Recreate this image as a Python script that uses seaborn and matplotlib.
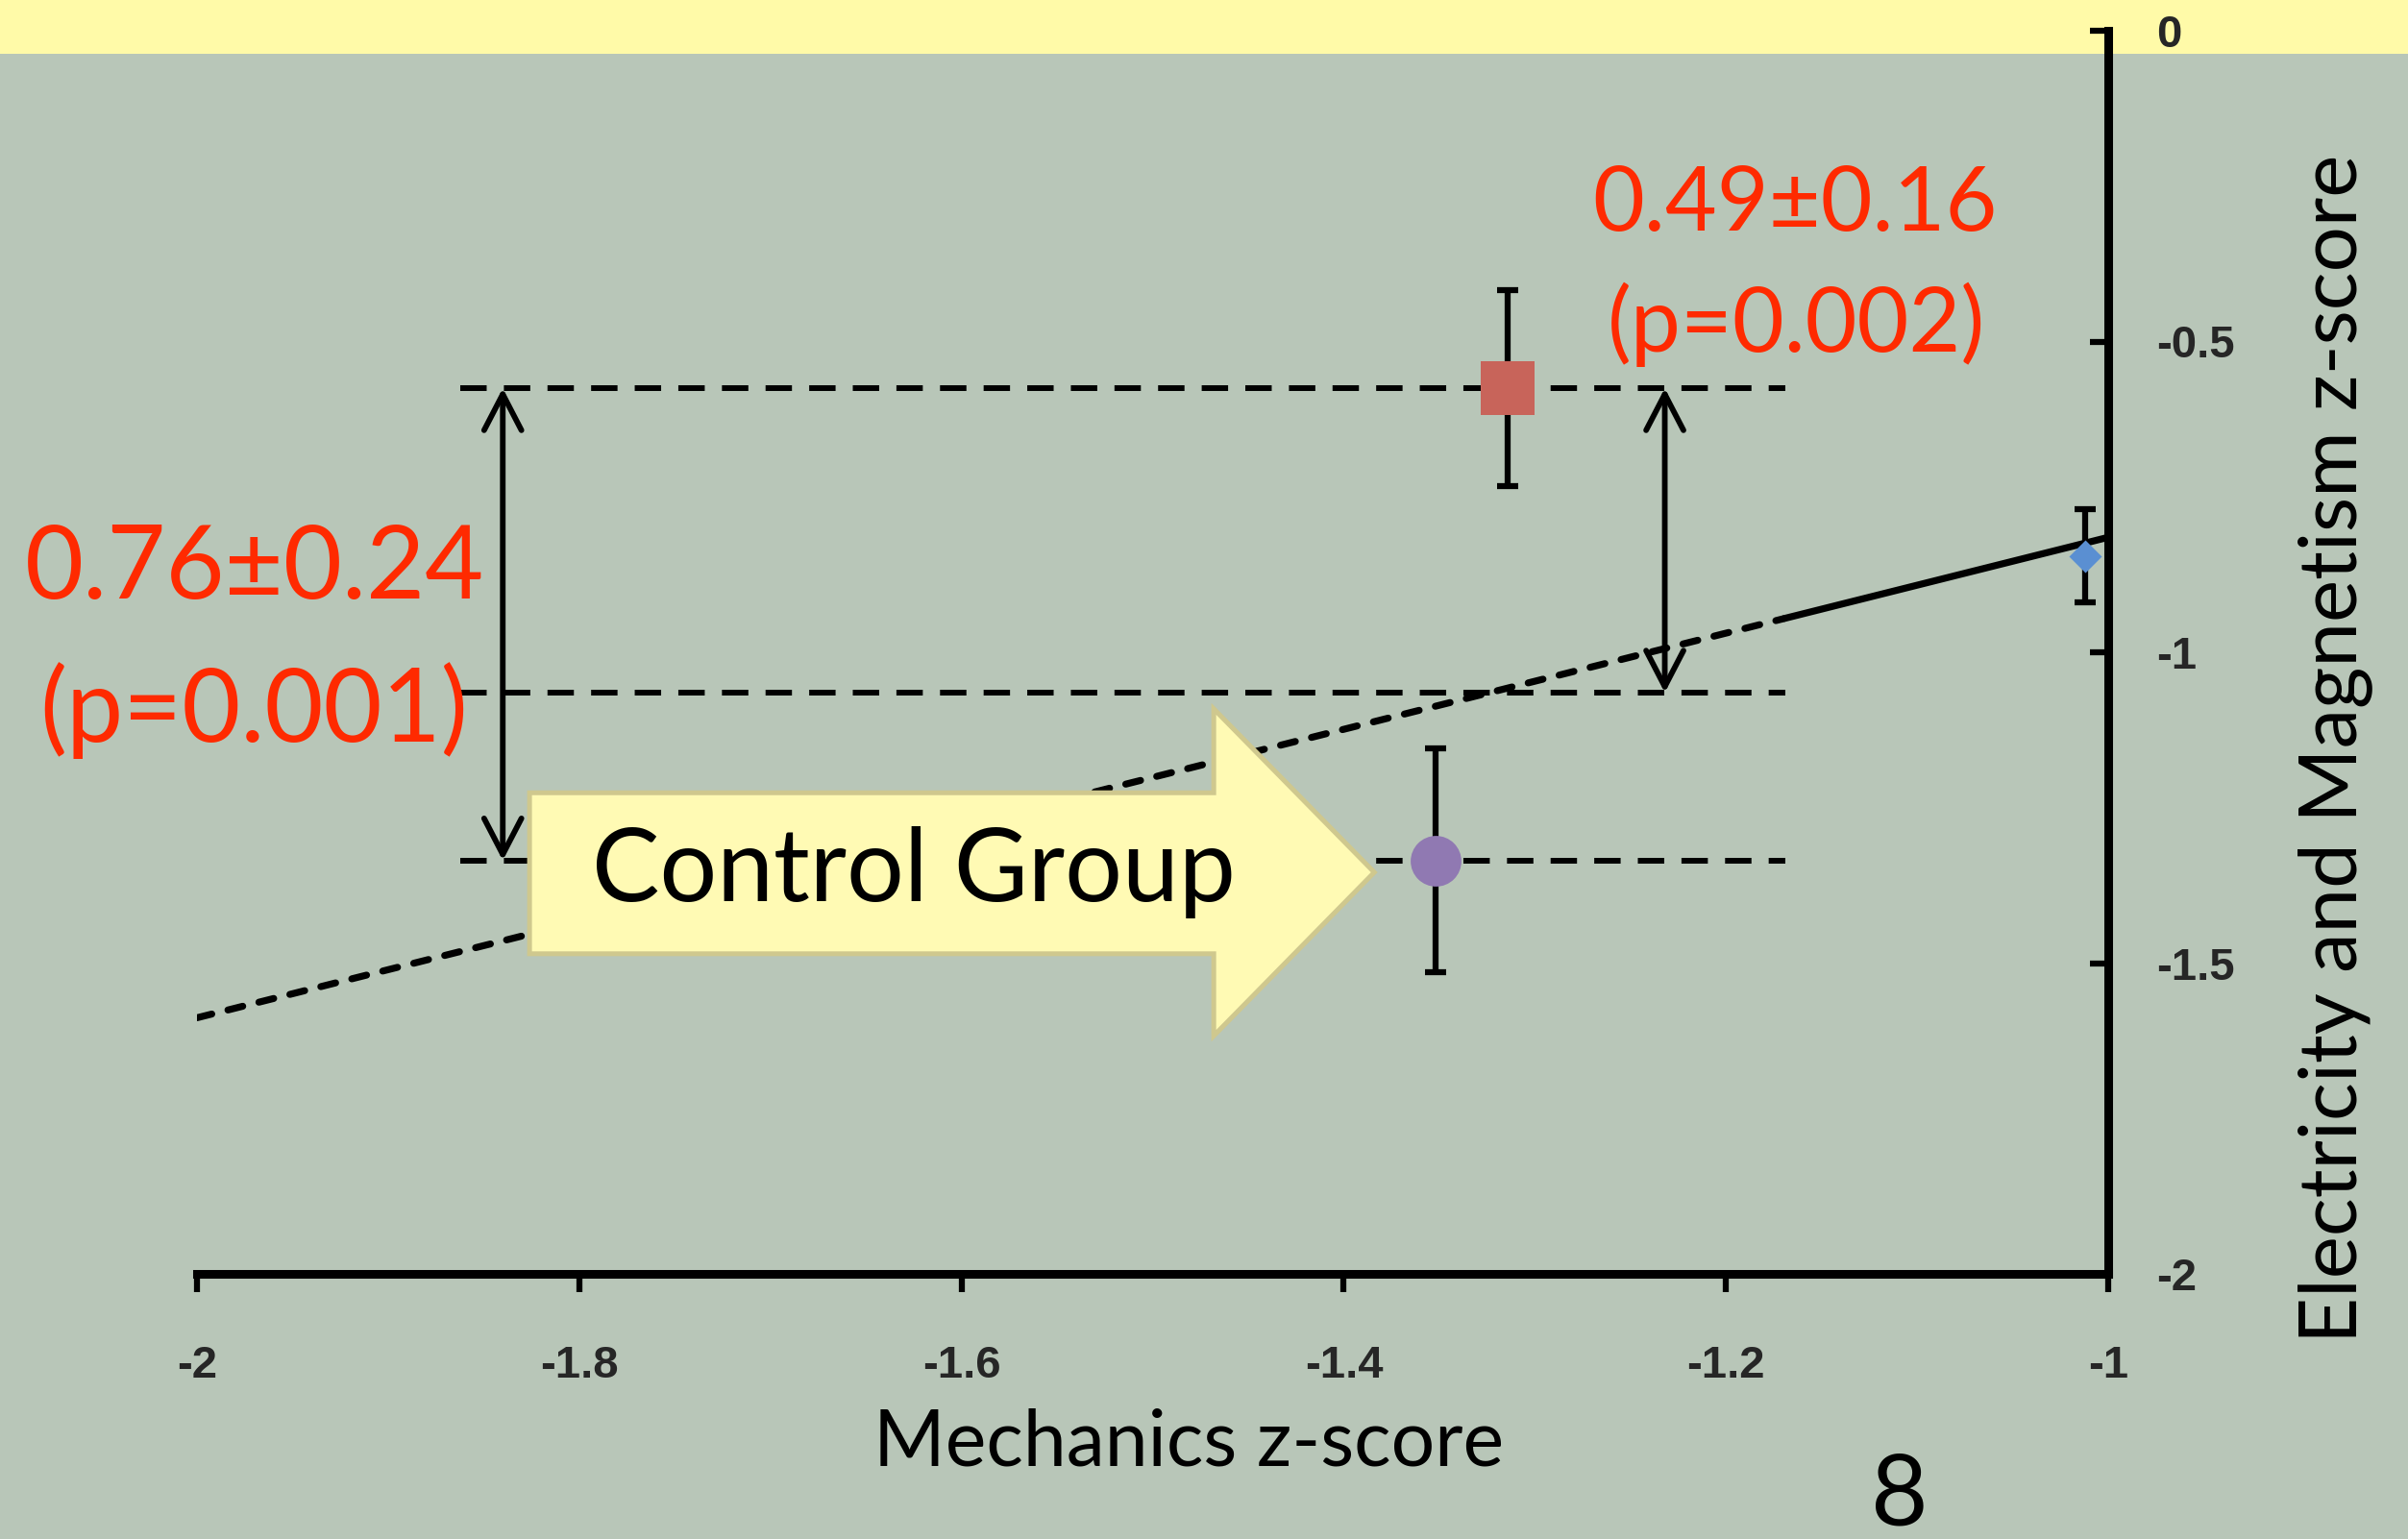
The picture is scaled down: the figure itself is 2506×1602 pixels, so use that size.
import matplotlib
matplotlib.use("Agg")
import matplotlib.pyplot as plt
import seaborn as sns
import pandas as pd
from matplotlib.patches import Polygon, Rectangle, FancyArrowPatch

# ---- data -------------------------------------------------------------
group_names = ["Tutored", "Control", "Cohort"]
mech_z = [-1.314, -1.352, -1.012]          # Mechanics z-score of each group
em_z = [-0.575, -1.335, -0.845]            # Electricity & Magnetism z-score
em_se = [0.157, 0.180, 0.075]              # standard error of E&M score

trend_x = [-2.0, -1.17, -1.0]              # regression line: extrapolated part, fitted part
trend_y = [-1.588, -0.946, -0.815]

predicted_em = -1.065                      # line value at the tutored group's Mechanics score

diff_labels = ["0.76\u00b10.24", "0.49\u00b10.16"]
p_labels = ["(p=0.001)", "(p=0.002)"]

x_ticks = [-2.0, -1.8, -1.6, -1.4, -1.2, -1.0]
x_tick_labels = ["-2", "-1.8", "-1.6", "-1.4", "-1.2", "-1"]
y_ticks = [0.0, -0.5, -1.0, -1.5, -2.0]
y_tick_labels = ["0", "-0.5", "-1", "-1.5", "-2"]

# ---- style ------------------------------------------------------------
BG = "#B8C6B8"
BAND = "#FFFAA8"
RED_TEXT = "#FF2A00"
MARKER_COLORS = ["#C8645A", "#9079B2", "#5A8FD2"]
MARKERS = ["s", "o", "D"]
MARKER_SIZES = [1600, 1444, 300]

sns.set_theme(style="ticks")
plt.rcParams["font.family"] = ["Lato", "DejaVu Sans"]

W, H = 2506, 1602
fig = plt.figure(figsize=(W / 100, H / 100), dpi=100, facecolor=BG)
fig.patches.append(Rectangle((0, 1 - 56 / H), 1, 56 / H, transform=fig.transFigure,
                             facecolor=BAND, edgecolor="none", zorder=-1))

ax = fig.add_axes([205 / W, 1 - 1326 / H, (2194 - 205) / W, (1326 - 32) / H])
ax.patch.set_visible(False)
ax.set_xlim(-2, -1)
ax.set_ylim(-2, 0)

df = pd.DataFrame({"group": group_names, "mech": mech_z, "em": em_z, "se": em_se})

# dashed reference levels
ref_span = (-1.862, -1.169)
dash_kw = dict(color="black", lw=4.3, linestyle=(0, (4.6, 3.0)), dash_capstyle="butt", zorder=2)
for level in [em_z[0], predicted_em, em_z[1]]:
    ax.plot(ref_span, [level, level], **dash_kw)

# regression line (extrapolated part dashed)
sns.lineplot(x=trend_x[:2], y=trend_y[:2], ax=ax, color="black", linewidth=5.2,
             linestyle=(0, (2.2, 2.4)), dash_capstyle="round", zorder=2)
sns.lineplot(x=trend_x[1:], y=trend_y[1:], ax=ax, color="black", linewidth=5.2,
             solid_capstyle="butt", zorder=2)

# error bars
ax.errorbar(df["mech"], df["em"], yerr=df["se"], fmt="none", ecolor="black",
            elinewidth=4.5, capsize=8, capthick=4.5, zorder=4)

# group markers
for i, row in df.iterrows():
    sns.scatterplot(x=[row["mech"]], y=[row["em"]], ax=ax, marker=MARKERS[i],
                    s=MARKER_SIZES[i], color=MARKER_COLORS[i], linewidth=0, zorder=5)

# double-headed difference arrows
arrow_style = "<->,head_length=27,head_width=14"
for x_arrow, low in [(-1.840, em_z[0] - 0.76), (-1.232, em_z[0] - 0.49)]:
    ax.add_patch(FancyArrowPatch((x_arrow, em_z[0]), (x_arrow, low), arrowstyle=arrow_style,
                                 mutation_scale=1, lw=4.2, color="black",
                                 shrinkA=0, shrinkB=0, zorder=3))

# callout arrow pointing at the control group
callout = Polygon([(-1.826, -1.226), (-1.468, -1.226), (-1.468, -1.091), (-1.384, -1.354),
                   (-1.468, -1.617), (-1.468, -1.485), (-1.826, -1.485)],
                  closed=True, facecolor="#FFFAB4", edgecolor="#CFC88E", lw=3.6, zorder=3.5)
ax.add_patch(callout)
ax.text(-1.625, -1.400, "Control Group", ha="center", va="baseline",
        fontsize=76, color="black", zorder=6)

# red annotations
ax.text(-1.970, -0.913, diff_labels[0], ha="center", va="baseline", fontsize=76, color=RED_TEXT)
ax.text(-1.970, -1.144, p_labels[0], ha="center", va="baseline", fontsize=76, color=RED_TEXT)
ax.text(-1.164, -0.321, diff_labels[1], ha="center", va="baseline", fontsize=67, color=RED_TEXT)
ax.text(-1.163, -0.516, p_labels[1], ha="center", va="baseline", fontsize=67, color=RED_TEXT)

# axes
for side in ["left", "top"]:
    ax.spines[side].set_visible(False)
for side in ["right", "bottom"]:
    ax.spines[side].set_visible(True)
    ax.spines[side].set_linewidth(6.5)
    ax.spines[side].set_color("black")
    ax.spines[side].set_capstyle("projecting")

ax.yaxis.tick_right()
ax.set_xticks(x_ticks)
ax.set_xticklabels(x_tick_labels)
ax.set_yticks(y_ticks)
ax.set_yticklabels(y_tick_labels)
tick_font = dict(family="Liberation Sans", weight="bold", size=34)
for lab in ax.get_xticklabels() + ax.get_yticklabels():
    lab.set_fontproperties(tick_font)
ax.tick_params(axis="x", direction="out", length=14, width=4.5, pad=39, color="black")
ax.tick_params(axis="y", direction="in", length=14, width=4.5, pad=36, color="black",
               right=True, left=False, labelright=True, labelleft=False)
ax.set_xlabel("")
ax.set_ylabel("")

fig.text(1237 / W, 1 - 1525 / H, "Mechanics z-score", ha="center", va="baseline",
         fontsize=58, color="black")
fig.text(2452 / W, 1 - 779 / H, "Electricity and Magnetism z-score", ha="center",
         va="baseline", rotation=90, rotation_mode="anchor", fontsize=60, color="black")
fig.text(1977 / W, 1 - 1588 / H, "8", ha="center", va="baseline", fontsize=74, color="black")

fig.savefig("out.png", dpi=100, facecolor=BG)
